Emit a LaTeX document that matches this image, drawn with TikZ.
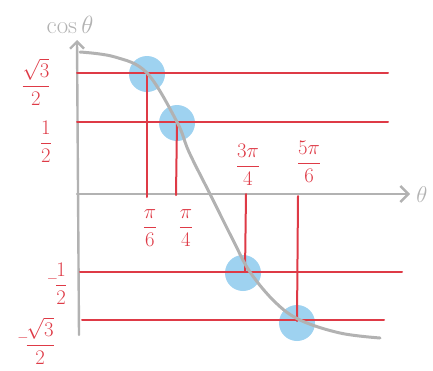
\documentclass[tikz,border=0pt]{standalone}
\usetikzlibrary{arrows.meta}
\definecolor{penred}{RGB}{222,58,70}
\definecolor{pengray}{RGB}{178,178,178}
\definecolor{dotblue}{RGB}{158,210,240}
\tikzset{
  axisline/.style={pengray,line width=2.4pt,line cap=round},
  curveline/.style={pengray,line width=3pt,line cap=round},
  redline/.style={penred,line width=2pt,line cap=round},
  dotmark/.style={circle,fill=dotblue,minimum size=36pt,inner sep=0pt},
  redlabel/.style={penred,font=\huge,inner sep=0pt},
  graylabel/.style={pengray,font=\huge,inner sep=0pt}
}
\begin{document}
\begin{tikzpicture}[x=1pt,y=-1pt]
\useasboundingbox (0,0) rectangle (433,370);
% axes anchors
\coordinate (ytop) at (77,40);
\coordinate (ybot) at (79,335);
\coordinate (xleft) at (77,194);
\coordinate (xright) at (410,194);
% intersection points
\coordinate (p1) at (147,73);
\coordinate (p2) at (177,122);
\coordinate (p3) at (245,272);
\coordinate (p4) at (297,321);
% dots
\node[dotmark] (d1) at (147,74) {};
\node[dotmark] (d2) at (177,123) {};
\node[dotmark] (d3) at (243,273) {};
\node[dotmark] (d4) at (297,323) {};
% axes
\draw[axisline,-{Straight Barb[length=7pt,width=14pt]}] (ybot) -- (ytop);
\draw[axisline,-{Straight Barb[length=8pt,width=16pt]}] (xleft) -- (xright);
% horizontal lines
\coordinate (h1l) at (77,73);   \coordinate (h1r) at (388,73);
\coordinate (h2l) at (77,122);  \coordinate (h2r) at (388,122);
\coordinate (h3l) at (80,272);  \coordinate (h3r) at (402,272);
\coordinate (h4l) at (82,320);  \coordinate (h4r) at (384,320);
\draw[redline] (h1l) -- (h1r);
\draw[redline] (h2l) -- (h2r);
\draw[redline] (h3l) -- (h3r);
\draw[redline] (h4l) -- (h4r);
% vertical lines
\coordinate (v1b) at (147,197);
\coordinate (v2b) at (176,195);
\coordinate (v3t) at (246,194);
\coordinate (v4t) at (298,196);
\draw[redline] (p1) -- (v1b);
\draw[redline] (p2) -- (v2b);
\draw[redline] (v3t) -- (p3);
\draw[redline] (v4t) -- (p4);
% curve
\draw[curveline] plot[smooth,tension=0.6] coordinates {(80,52) (115,57) (147,73) (177,122) (189,152) (210,194) (233,240) (250,272) (275,302) (300,320) (340,333) (380,338)};
% labels
\node[graylabel,scale=1.2] (ylab) at (70,25) {$\cos\theta$};
\node[graylabel,scale=1.1] (xlab) at (422,195) {$\theta$};
\node[redlabel] (l1) at (36,82) {$\displaystyle\frac{\sqrt{3}}{2}$};
\node[redlabel] (l2) at (46,142) {$\displaystyle\frac{1}{2}$};
\node[redlabel] (l3) at (57,284) {$\displaystyle{}^{-}\!\frac{1}{2}$};
\node[redlabel] (l4) at (36,341) {$\displaystyle{}^{-}\!\frac{\sqrt{3}}{2}$};
\node[redlabel] (t1) at (150,228) {$\displaystyle\frac{\pi}{6}$};
\node[redlabel] (t2) at (186,228) {$\displaystyle\frac{\pi}{4}$};
\node[redlabel] (t3) at (248,165) {$\displaystyle\frac{3\pi}{4}$};
\node[redlabel] (t4) at (309,162) {$\displaystyle\frac{5\pi}{6}$};
\end{tikzpicture}
\end{document}
